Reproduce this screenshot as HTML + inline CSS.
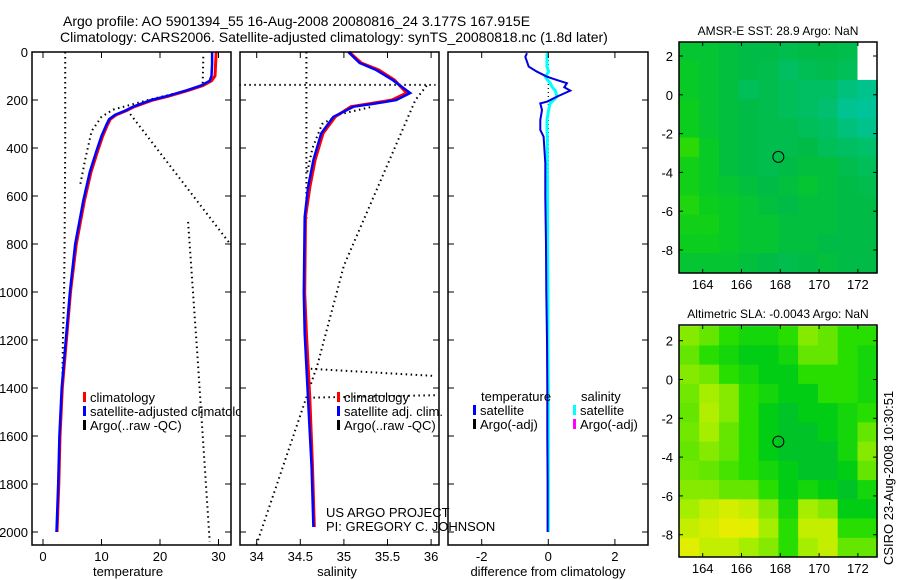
<!DOCTYPE html>
<html><head><meta charset="utf-8"><style>
html,body{margin:0;padding:0;background:#fff}
svg{display:block;font-family:"Liberation Sans",sans-serif}
text{fill:#000}
</style></head><body>
<svg id="fig" width="900" height="580" viewBox="0 0 900 580" xmlns="http://www.w3.org/2000/svg">
<text x="63" y="26" font-size="14">Argo profile: AO 5901394_55 16-Aug-2008 20080816_24 3.177S 167.915E</text>
<text x="60" y="42" font-size="14">Climatology: CARS2006. Satellite-adjusted climatology: synTS_20080818.nc (1.8d later)</text>
<g id="g1"></g>
<g id="g2"></g>
<g id="g3"></g>
<g id="g4"></g>
<g id="g5"></g>
<text x="0" y="0" font-size="13" transform="translate(893,565) rotate(-90)">CSIRO 23-Aug-2008 10:30:51</text>
</svg>
<script>
// ---------- data ----------
const depthsClim = [0,50,100,120,140,160,185,200,228,245,262,280,305,350,408,500,617,800,1000,1200,1400,1600,1800,2000];
const tempSat    = [28.9,28.9,28.8,28.5,27,24.5,21,18.5,15.4,14,12.3,11.3,10.8,10,9.2,8,6.9,5.5,4.6,3.9,3.2,2.8,2.6,2.3];
const tempClim   = [29.6,29.5,29.4,28.8,27.3,24.8,21.3,18.8,15.6,14.2,12.5,11.5,11,10.2,9.4,8.2,7.1,5.7,4.7,4.0,3.3,2.9,2.7,2.4];
const depthsSal  = [0,46,75,117,171,200,214,228,270,339,450,562,687,1005,1172,1450,1729,1979];
const salSat     = [35.05,35.18,35.37,35.56,35.76,35.6,35.37,35.11,34.88,34.74,34.65,34.59,34.55,34.54,34.55,34.59,34.63,34.65];
const salClim    = [35.06,35.2,35.4,35.58,35.72,35.55,35.32,35.08,34.9,34.76,34.67,34.61,34.56,34.55,34.57,34.61,34.64,34.66];
const argoTempSegs = [
  [[3.8,0],[3.8,400],[3.7,800],[3.6,1000],[3.4,1200],[3.3,1400]],
  [[27.4,20],[27.3,130]],
  [[23,170],[18,200],[12,240],[10,270],[8.3,330],[7.2,450],[6.3,560]],
  [[14.4,242],[32,800]],
  [[24.8,708],[26.5,1300],[28.5,2040]]
];
const argoSalSegs = [
  [[34.57,0],[34.57,700]],
  [[33.8,137],[36.05,137]],
  [[35.95,140],[35.82,200],[35,890],[34.7,1300],[34.0,2050]],
  [[35.3,230],[34.95,260],[34.75,300],[34.64,400],[34.58,500]],
  [[34.62,1320],[36.05,1350]],
  [[34.65,1440],[36.05,1430]]
];
const diffDepths = [5,20,61,82,103,117,130,147,161,186,207,214,242,283,325,353,463,603,800,1000,1200,1400,1600,1800,2000];
const diffTemp   = [-0.64,-0.69,-0.59,-0.34,-0.04,0.26,0.56,0.48,0.66,0.26,-0.04,-0.24,-0.19,-0.24,-0.24,-0.14,-0.09,-0.09,-0.07,-0.06,-0.04,-0.03,-0.03,-0.02,-0.02];
const diffSal    = [-0.04,-0.04,-0.04,0.01,-0.09,-0.02,0.06,0.12,0.21,0.26,0.11,0.05,0.01,-0.04,-0.04,-0.03,-0.03,-0.02,-0.02,-0.01,-0.01,0,0,0,0];
const sstGrid = [
 [0.55,0.55,0.52,0.5,0.5,0.48,0.5,0.5,0.48,null],
 [0.58,0.55,0.52,0.5,0.48,0.42,0.46,0.48,0.45,null],
 [0.58,0.55,0.52,0.45,0.48,0.45,0.42,0.42,0.35,0.3],
 [0.6,0.55,0.52,0.5,0.48,0.45,0.42,0.38,0.28,0.25],
 [0.6,0.55,0.52,0.5,0.48,0.48,0.45,0.42,0.35,0.3],
 [0.68,0.58,0.52,0.5,0.48,0.48,0.5,0.45,0.42,0.4],
 [0.62,0.58,0.52,0.5,0.48,0.5,0.52,0.52,0.48,0.45],
 [0.62,0.58,0.55,0.52,0.5,0.52,0.55,0.52,0.5,0.48],
 [0.65,0.6,0.58,0.55,0.52,0.5,0.52,0.52,0.5,0.5],
 [0.62,0.62,0.58,0.55,0.55,0.52,0.52,0.52,0.5,0.5],
 [0.6,0.6,0.58,0.55,0.55,0.52,0.52,0.5,0.5,0.5],
 [0.55,0.55,0.55,0.52,0.5,0.48,0.5,0.52,0.5,0.5]
];
const slaGrid = [
 [0.75,0.7,0.6,0.55,0.55,0.6,0.75,0.7,0.6,0.6],
 [0.7,0.6,0.55,0.5,0.5,0.55,0.7,0.7,0.6,0.55],
 [0.75,0.72,0.6,0.55,0.5,0.5,0.6,0.6,0.6,0.55],
 [0.72,0.8,0.75,0.6,0.55,0.5,0.5,0.6,0.6,0.55],
 [0.7,0.82,0.75,0.6,0.5,0.45,0.5,0.5,0.55,0.6],
 [0.72,0.8,0.7,0.6,0.5,0.45,0.45,0.5,0.55,0.7],
 [0.7,0.75,0.7,0.6,0.5,0.45,0.45,0.45,0.55,0.75],
 [0.72,0.7,0.65,0.6,0.55,0.5,0.45,0.45,0.5,0.7],
 [0.75,0.75,0.7,0.7,0.6,0.5,0.55,0.5,0.45,0.55],
 [0.8,0.85,0.88,0.85,0.75,0.55,0.8,0.75,0.5,0.5],
 [0.85,0.88,0.92,0.9,0.8,0.6,0.85,0.85,0.6,0.6],
 [0.9,0.85,0.85,0.8,0.75,0.6,0.8,0.85,0.7,0.7]
];
const depthTicks = [0,200,400,600,800,1000,1200,1400,1600,1800,2000];
const tempTicks = [0,10,20,30];
const salTicks = [34,34.5,35,35.5,36];
const diffTicks = [-2,0,2];
const lonTicks = [164,166,168,170,172];
const latTicks = [2,0,-2,-4,-6,-8];
const floatLon = 167.9, floatLat = -3.2;

// ---------- helpers ----------
const NS="http://www.w3.org/2000/svg";
function mk(parent,tag,attrs,txt){const e=document.createElementNS(NS,tag);for(const k in attrs)e.setAttribute(k,attrs[k]);if(txt!==undefined)e.textContent=txt;parent.appendChild(e);return e;}
const yD = d => 52 + 0.24*d;
const xT = t => 43 + 5.85*t;
const xS = s => 256.7 + 87.2*(s-34);
const xV = v => 548.3 + 33.3*v;

function frame(g,x0,x1,y0,y1){
  const r=mk(g,'rect',{x:x0,y:y0,width:x1-x0,height:y1-y0,fill:'none',stroke:'#000','stroke-width':1.5});
  
  
}
function depthAxis(g,x0,x1,labels){
  depthTicks.forEach(d=>{
    const y=yD(d);
    mk(g,'line',{x1:x0,x2:x0+6,y1:y,y2:y,stroke:'#000'});
    mk(g,'line',{x1:x1-6,x2:x1,y1:y,y2:y,stroke:'#000'});
    if(labels){const t=mk(g,'text',{x:x0-4,y:y+5,'font-size':13,'text-anchor':'end'},String(d));
      
      }
  });
}
function xAxis(g,ticks,fx,name){
  ticks.forEach(v=>{
    const x=fx(v);
    mk(g,'line',{x1:x,x2:x,y1:52,y2:58,stroke:'#000'});
    mk(g,'line',{x1:x,x2:x,y1:539,y2:545,stroke:'#000'});
    const t=mk(g,'text',{x:x,y:561,'font-size':13,'text-anchor':'middle'},String(v));
    
    
  });
}
function line(g,xs,ys,color,w,name,dash){
  const pts=xs.map((x,i)=>x.toFixed(1)+','+ys[i].toFixed(1)).join(' ');
  const p=mk(g,'polyline',{points:pts,fill:'none',stroke:color,'stroke-width':w});
  if(dash)p.setAttribute('stroke-dasharray',dash);
  
  
  return p;
}
function legend(g,x,y,color,label,name){
  mk(g,'rect',{x:x,y:y-10,width:3,height:10,fill:color});
  const t=mk(g,'text',{x:x+7,y:y,'font-size':13},label);
  
  
}

// ---------- temperature panel ----------
const g1=document.getElementById('g1');
mk(g1,'rect',{x:32,y:52,width:199,height:493,fill:'#fff'});
argoTempSegs.forEach(s=>line(g1,s.map(p=>xT(p[0])),s.map(p=>yD(p[1])),'#000',2,'argo-temp-dots','1.5 3.5'));
line(g1,tempClim.map(xT),depthsClim.map(yD),'#f00',3,'temp-climatology-line');
line(g1,tempSat.map(xT),depthsClim.map(yD),'#00f',2.5,'temp-satellite-line');
legend(g1,83,402,'#f00','climatology','legend-climatology');
legend(g1,83,416,'#00f','satellite-adjusted climatology','legend-satellite-adjusted');
legend(g1,83,430,'#000','Argo(..raw -QC)','legend-argo-raw');
frame(g1,32,231,52,545);
depthAxis(g1,32,231,true);
xAxis(g1,tempTicks,xT,'temperature');
const xl1=mk(g1,'text',{x:128,y:576,'font-size':13,'text-anchor':'middle'},'temperature');



// ---------- salinity panel ----------
const g2=document.getElementById('g2');
mk(g2,'rect',{x:240,y:52,width:199,height:493,fill:'#fff'});
argoSalSegs.forEach(s=>line(g2,s.map(p=>xS(Math.max(33.8,Math.min(36.08,p[0])))),s.map(p=>yD(p[1])),'#000',2,'argo-sal-dots','1.5 3.5'));
line(g2,salClim.map(xS),depthsSal.map(yD),'#f00',3,'sal-climatology-line');
line(g2,salSat.map(xS),depthsSal.map(yD),'#00f',2.5,'sal-satellite-line');
legend(g2,337,402,'#f00','climatology','legend-sal-climatology');
legend(g2,337,416,'#00f','satellite adj. clim.','legend-sal-satellite');
legend(g2,337,430,'#000','Argo(..raw -QC)','legend-sal-argo');
frame(g2,240,439,52,545);
depthAxis(g2,240,439,false);
xAxis(g2,salTicks,xS,'salinity');
const xl2=mk(g2,'text',{x:337,y:576,'font-size':13,'text-anchor':'middle'},'salinity');



// ---------- difference panel ----------
const g3=document.getElementById('g3');
mk(g3,'rect',{x:446,y:52,width:202,height:493,fill:'#fff'});
line(g3,[xV(0),xV(0)],[yD(0),yD(700)],'#000',1.2,'zero-reference-dots','1 3');
line(g3,diffSal.map(xV),diffDepths.map(yD),'#0ff',3,'diff-salinity-satellite-line');
line(g3,diffTemp.map(xV),diffDepths.map(yD),'#0000e0',2,'diff-temperature-satellite-line');
const tl=mk(g3,'text',{x:481,y:401,'font-size':13},'temperature');


const sl=mk(g3,'text',{x:581,y:401,'font-size':13},'salinity');


legend(g3,473,415,'#00f','satellite','legend-diff-temp-satellite');
legend(g3,473,429,'#000','Argo(-adj)','legend-diff-temp-argo');
legend(g3,573,415,'#0ff','satellite','legend-diff-sal-satellite');
legend(g3,573,429,'#f0f','Argo(-adj)','legend-diff-sal-argo');
frame(g3,448,648,52,545);
depthTicks.forEach(d=>{const y=yD(d);mk(g3,'line',{x1:448,x2:454,y1:y,y2:y,stroke:'#000'});mk(g3,'line',{x1:642,x2:648,y1:y,y2:y,stroke:'#000'});});
xAxis(g3,diffTicks,xV,'difference');
const xl3=mk(g3,'text',{x:548,y:576,'font-size':13,'text-anchor':'middle'},'difference from climatology');


const us=mk(document.getElementById('fig'),'text',{x:326,y:517,'font-size':13},'US ARGO PROJECT');


const pi=mk(document.getElementById('fig'),'text',{x:326,y:531,'font-size':13},'PI: GREGORY C. JOHNSON');



// ---------- maps ----------
function interp(stops,v){
  if(v<=stops[0][0])return 'rgb('+stops[0][1].join(',')+')';
  for(let i=1;i<stops.length;i++){if(v<=stops[i][0]){const a=stops[i-1],b=stops[i],f=(v-a[0])/(b[0]-a[0]);
    return 'rgb('+a[1].map((c,k)=>Math.round(c+(b[1][k]-c)*f)).join(',')+')';}}
  return 'rgb('+stops[stops.length-1][1].join(',')+')';
}
const sstStops=[[0,[0,200,220]],[0.3,[0,195,140]],[0.5,[0,188,70]],[0.6,[10,205,30]],[0.7,[50,220,0]],[1,[250,235,0]]];
const slaStops=[[0.45,[0,195,40]],[0.5,[0,205,20]],[0.6,[40,222,0]],[0.7,[100,230,0]],[0.8,[165,238,0]],[0.9,[225,238,0]],[1,[250,235,0]]];
function drawMap(g,grid,stops,top,bottom,lat2y,title,name){
  const x0=679,x1=877;
  const xL=lon=>702.7+19.4*(lon-164);
  const yL=lat=>lat2y-19.4*(lat-2);
  const nr=grid.length,nc=grid[0].length;
  const lon0=162.8,lat0=2.75,dlon=10.2/nc,dlat=11.9/nr;
  grid.forEach((row,r)=>row.forEach((v,c)=>{
    const xa=xL(lon0+c*dlon),xb=xL(lon0+(c+1)*dlon),ya=yL(lat0-r*dlat),yb=yL(lat0-(r+1)*dlat);
    const cell=mk(g,'rect',{x:xa.toFixed(1),y:ya.toFixed(1),width:(xb-xa+0.5).toFixed(1),height:(yb-ya+0.5).toFixed(1),fill:v===null?'#fff':interp(stops,v)});
    
    
  }));
  const cx=xL(floatLon),cy=yL(floatLat);
  const c=mk(g,'circle',{cx:cx,cy:cy,r:5.5,fill:'none',stroke:'#000','stroke-width':1});
  
  
  mk(g,'rect',{x:x0,y:top,width:x1-x0,height:bottom-top,fill:'none',stroke:'#000','stroke-width':1.5});
  lonTicks.forEach(l=>{const x=xL(l);
    mk(g,'line',{x1:x,x2:x,y1:top,y2:top+4,stroke:'#000'});mk(g,'line',{x1:x,x2:x,y1:bottom-4,y2:bottom,stroke:'#000'});
    const t=mk(g,'text',{x:x,y:bottom+16,'font-size':13,'text-anchor':'middle'},String(l));
    
    });
  latTicks.forEach(l=>{const y=yL(l);
    mk(g,'line',{x1:x0,x2:x0+4,y1:y,y2:y,stroke:'#000'});mk(g,'line',{x1:x1-4,x2:x1,y1:y,y2:y,stroke:'#000'});
    const t=mk(g,'text',{x:x0-6,y:y+5,'font-size':13,'text-anchor':'end'},String(l));
    
    });
  const tt=mk(g,'text',{x:778,y:top-7,'font-size':12,'text-anchor':'middle'},title);
  
  
}
drawMap(document.getElementById('g4'),sstGrid,sstStops,42,273,56,'AMSR-E SST: 28.9 Argo: NaN','sst-map');
drawMap(document.getElementById('g5'),slaGrid,slaStops,325,557,340.7,'Altimetric SLA: -0.0043 Argo: NaN','sla-map');
</script>
</body></html>
